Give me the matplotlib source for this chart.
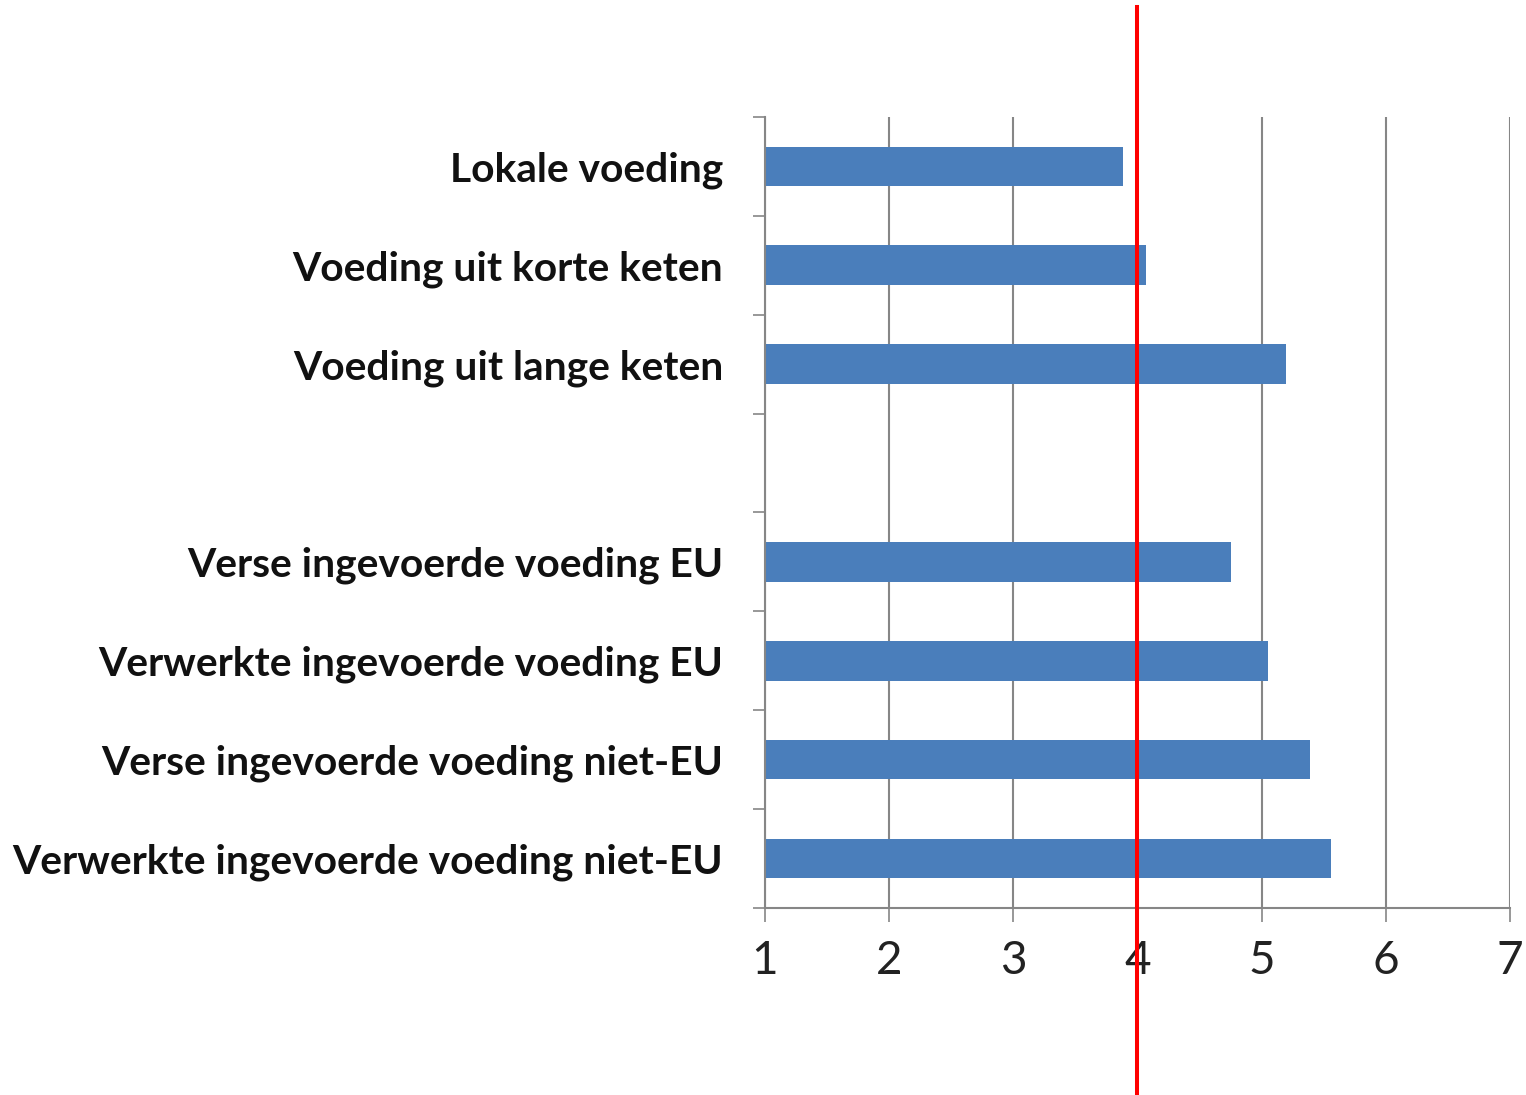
import matplotlib

matplotlib.use("Agg")
import matplotlib.pyplot as plt  # noqa: E402
import numpy as np  # noqa: E402

# Average score per food category (scale 1-7); empty string = spacer row
categories = [
    "Lokale voeding",
    "Voeding uit korte keten",
    "Voeding uit lange keten",
    "",
    "Verse ingevoerde voeding EU",
    "Verwerkte ingevoerde voeding EU",
    "Verse ingevoerde voeding niet-EU",
    "Verwerkte ingevoerde voeding niet-EU",
]
scores = [3.88, 4.07, 5.20, np.nan, 4.75, 5.05, 5.39, 5.56]
x_ticks = [1, 2, 3, 4, 5, 6, 7]
reference_score = 4.0

BAR = "#4a7ebb"
AXIS = "#868686"

fig = plt.figure(figsize=(15.26, 10.95), dpi=100)
ax = fig.add_axes([0.5013, 0.1708, 0.4882, 0.7224])

y = np.arange(len(categories))
vals = np.array(scores, dtype=float)
mask = ~np.isnan(vals)
ax.barh(y[mask], vals[mask] - 1, left=1, height=0.4, color=BAR, zorder=2)

ax.set_xlim(1, 7)
ax.set_ylim(len(categories) - 0.5, -0.5)
ax.set_xticks(x_ticks)
ax.set_xticklabels([str(t) for t in x_ticks], fontsize=33, family="Lato",
                   color="#222222")
ax.tick_params(axis="x", direction="out", length=10, width=1.2, color=AXIS, pad=13)

ax.set_yticks(y)
ax.set_yticklabels(categories, fontsize=29.3, family="Lato",
                   fontweight="bold", color="#111111")
ax.tick_params(axis="y", which="major", length=0, pad=30)
ax.set_yticks(np.arange(-0.5, len(categories)), minor=True)
ax.tick_params(axis="y", which="minor", direction="out", length=9, width=1.2,
               color=AXIS)

ax.grid(axis="x", color=AXIS, linewidth=1.5, zorder=1)
ax.set_axisbelow(True)
for side in ("top", "right"):
    ax.spines[side].set_visible(False)
for side in ("left", "bottom"):
    ax.spines[side].set_color(AXIS)
    ax.spines[side].set_linewidth(1.5)

# reference line, running past the plot area over the whole figure height
ax.axvline(reference_score, ymin=-0.236, ymax=1.139, color="#ff0000",
           linewidth=2.9, clip_on=False, zorder=5)

fig.savefig("out.png", dpi=100, facecolor="white")
